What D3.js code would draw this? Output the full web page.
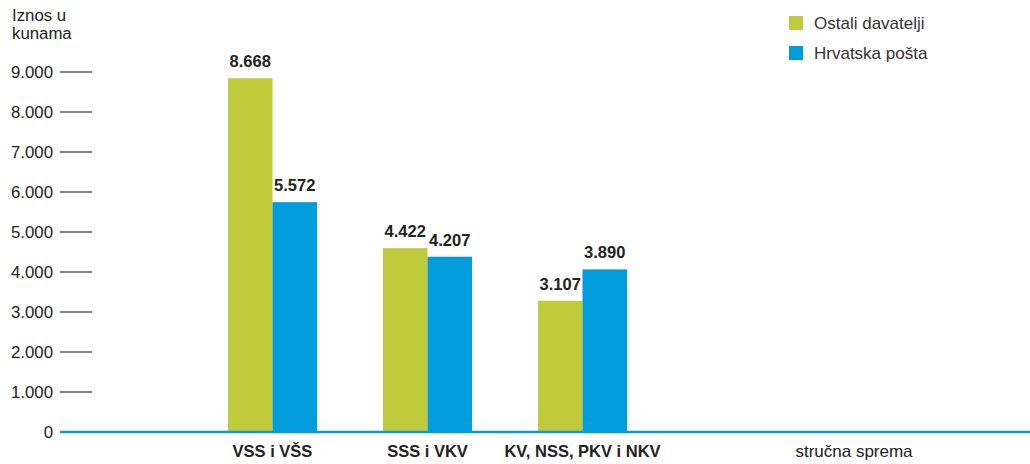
<!DOCTYPE html>
<html>
<head>
<meta charset="utf-8">
<script src="https://cdn.jsdelivr.net/npm/d3@7"></script>
<style>
  body { margin: 0; background: #fff; }
  svg text { font-family: "Liberation Sans", Arial, Helvetica, sans-serif; }
</style>
</head>
<body>
<svg id="chart" width="1030" height="464"></svg>
<script>
// data
const categories = ["VSS i VŠS", "SSS i VKV", "KV, NSS, PKV i NKV"];
const seriesNames = ["Ostali davatelji", "Hrvatska pošta"];
const ostali = [8668, 4422, 3107];
const posta = [5572, 4207, 3890];
const tickValues = [0, 1000, 2000, 3000, 4000, 5000, 6000, 7000, 8000, 9000];
const colors = ["#bfcb3b", "#009cdc"];

const svg = d3.select("#chart");
const fmt = v => d3.format(",")(v).replace(/,/g, ".");

// scales
const y = d3.scaleLinear().domain([0, 9000]).range([432, 72]);
// bars in the original sit a few pixels higher than the tick scale
const yBar = d3.scaleLinear().domain([0, 9000]).range([425, 65]);
const x = d3.scaleBand().domain(categories).range([195, 660]);
const xs = d3.scaleBand().domain(seriesNames).range([0, 89]);

// y axis ticks
const tick = svg.append("g").selectAll("g")
    .data(tickValues)
    .join("g")
    .attr("transform", d => `translate(0,${y(d)})`);
tick.filter(d => d > 0).append("line")
    .attr("x1", 60).attr("x2", 92)
    .attr("stroke", "#26343f").attr("stroke-width", 1.2);
tick.append("text")
    .attr("x", 53).attr("y", 6)
    .attr("text-anchor", "end")
    .attr("font-size", 16.8)
    .attr("fill", "#222")
    .text(fmt);

// y title
svg.append("text").attr("x", 12).attr("y", 21).attr("font-size", 16.8).attr("fill", "#222").text("Iznos u");
svg.append("text").attr("x", 12).attr("y", 39).attr("font-size", 16.8).attr("fill", "#222").text("kunama");

// bars
const rows = categories.map((c, i) => ({ cat: c, values: [ostali[i], posta[i]] }));
const group = svg.append("g").selectAll("g")
    .data(rows)
    .join("g")
    .attr("transform", d => `translate(${x(d.cat) + x.bandwidth() / 2 - 44.5},0)`);

group.selectAll("rect")
    .data(d => d.values.map((v, j) => ({ v, s: seriesNames[j], j })))
    .join("rect")
    .attr("x", d => xs(d.s))
    .attr("width", xs.bandwidth())
    .attr("y", d => yBar(d.v))
    .attr("height", d => y(0) - yBar(d.v))
    .attr("fill", d => colors[d.j]);

group.selectAll("text")
    .data(d => d.values.map((v, j) => ({ v, s: seriesNames[j] })))
    .join("text")
    .attr("x", d => xs(d.s) + xs.bandwidth() / 2)
    .attr("y", d => yBar(d.v) - 11)
    .attr("text-anchor", "middle")
    .attr("font-size", 16.5)
    .attr("font-weight", "bold")
    .attr("fill", "#222")
    .text(d => fmt(d.v));

// x axis line
svg.append("line")
    .attr("x1", 60).attr("x2", 1030)
    .attr("y1", y(0)).attr("y2", y(0))
    .attr("stroke", "#0a9ad8").attr("stroke-width", 2.5);

// category labels
svg.append("g").selectAll("text")
    .data(categories)
    .join("text")
    .attr("x", d => x(d) + x.bandwidth() / 2)
    .attr("y", 457)
    .attr("text-anchor", "middle")
    .attr("font-size", 16.5)
    .attr("font-weight", "bold")
    .attr("fill", "#222")
    .text(d => d);

svg.append("text")
    .attr("x", 854).attr("y", 457)
    .attr("text-anchor", "middle")
    .attr("font-size", 17)
    .attr("fill", "#222")
    .text("stručna sprema");

// legend
const legend = svg.append("g").selectAll("g")
    .data(seriesNames)
    .join("g")
    .attr("transform", (d, i) => `translate(789,${16 + i * 30})`);
legend.append("rect").attr("width", 14).attr("height", 14).attr("fill", (d, i) => colors[i]);
legend.append("text").attr("x", 25).attr("y", 13).attr("font-size", 17).attr("fill", "#333").text(d => d);
</script>
</body>
</html>
